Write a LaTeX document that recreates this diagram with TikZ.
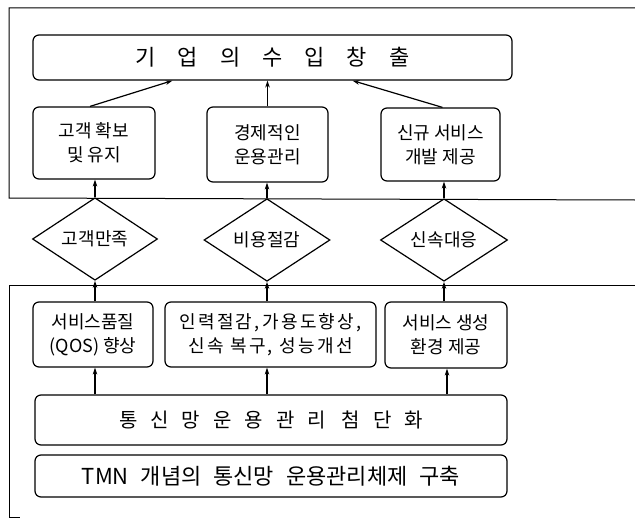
\documentclass[tikz,border=0pt]{standalone}
\usepackage{fontspec}
\setmainfont{Noto Sans CJK KR}
\usetikzlibrary{shapes.geometric,arrows.meta,calc}
\begin{document}
\begin{tikzpicture}[x=1pt,y=-1pt,
  box/.style={draw, line width=1.2pt, rounded corners=6pt, align=center, inner sep=0pt,
    font=\fontsize{18}{24}\selectfont},
  dia/.style={draw, line width=1.2pt, diamond, inner sep=0pt, font=\fontsize{18}{20}\selectfont},
  arr/.style={line width=1.2pt, -{Stealth[length=7pt,width=4.5pt]}},
  frame/.style={line width=1pt}]
\useasboundingbox (0,0) rectangle (635,519);
% frames
\draw[frame] (635,8) -- (9,8) -- (9,198) -- (635,200);
\draw[frame] (635,285) -- (9,285) -- (9,517) -- (20,517);
% top
\node[box, minimum width=479pt, minimum height=45pt, font=\fontsize{22}{26}\selectfont] (top) at (272.5,57.5)
  {기\quad 업\quad 의\quad 수\quad 입\quad 창\quad 출};
% row 2
\node[box, minimum width=122pt, minimum height=72pt] (b1) at (94,143) {고객 확보\\및 유지};
\node[box, minimum width=121pt, minimum height=75pt] (b2) at (267.5,144.5) {경제적인\\운용관리};
\node[box, minimum width=119pt, minimum height=73pt] (b3) at (440.5,144.5) {신규 서비스\\개발 제공};
% diamonds
\node[dia, minimum width=125pt, minimum height=54pt] (d1) at (95,239) {고객만족};
\node[dia, minimum width=126pt, minimum height=54pt] (d2) at (267,240) {비용절감};
\node[dia, minimum width=127pt, minimum height=54pt] (d3) at (444,240) {신속대응};
% row 4
\node[box, minimum width=120pt, minimum height=65pt] (c1) at (93,334.5) {서비스품질\\(QOS) 향상};
\node[box, minimum width=211pt, minimum height=65pt] (c2) at (270.5,334.5)
  {\addfontfeature{LetterSpace=13}인력절감,가용도향상,\\\addfontfeature{LetterSpace=13}신속 복구, 성능개선};
\node[box, minimum width=122pt, minimum height=66pt] (c3) at (446,335) {서비스 생성\\환경 제공};
% bottom boxes
\node[box, minimum width=472pt, minimum height=50pt, font=\fontsize{20}{24}\selectfont] (m) at (271,420)
  {통\hspace{13pt}신\hspace{13pt}망\hspace{13pt}운\hspace{13pt}용\hspace{13pt}관\hspace{13pt}리\hspace{16pt}첨\hspace{13pt}단\hspace{13pt}화};
\node[box, minimum width=472pt, minimum height=42pt, font=\fontsize{22}{26}\selectfont] (t) at (271,476)
  {TMN\hspace{12pt}개념의\hspace{12pt}통신망\hspace{12pt}운용관리체제\hspace{12pt}구축};
% arrows row2 -> top
\draw[arr] ($(b1.north)+(-4,0)$) -- ($(top.south)+(-100,0)$);
\draw[arr] (b2.north) -- (b2.north |- top.south);
\draw[arr] ($(b3.north)+(2,0)$) -- ($(top.south)+(80,0)$);
% diamonds -> row2
\draw[arr] (d1.north) -- (d1.north |- b1.south);
\draw[arr] (d2.north) -- (d2.north |- b2.south);
\draw[arr] (d3.north) -- (d3.north |- b3.south);
% row4 -> diamonds
\draw[arr] (c1.north -| d1.south) -- (d1.south);
\draw[arr] (c2.north -| d2.south) -- (d2.south);
\draw[arr] (c3.north -| d3.south) -- (d3.south);
% m -> row4
\draw[arr] (m.north -| d1.south) -- (c1.south -| d1.south);
\draw[arr] (m.north -| d2.south) -- (c2.south -| d2.south);
\draw[arr] ($(m.north -| c3.south)+(1,0)$) -- ($(c3.south)+(1,0)$);
\end{tikzpicture}
\end{document}
